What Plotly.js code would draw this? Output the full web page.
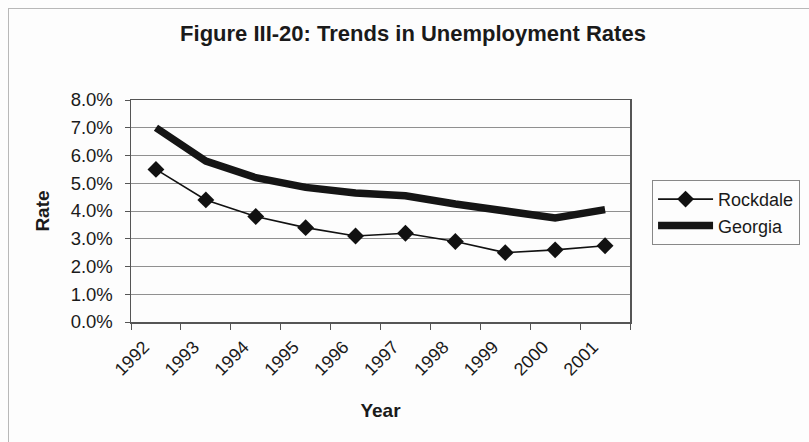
<!DOCTYPE html>
<html>
<head>
<meta charset="utf-8">
<script src="https://cdn.plot.ly/plotly-3.0.1.min.js"></script>
<style>
  html, body { margin: 0; padding: 0; background: #fdfdfd; }
  #wrap { position: relative; width: 809px; height: 442px; overflow: hidden; }
  #chart { position: absolute; left: 0; top: 0; width: 809px; height: 442px; }
  #frame { position: absolute; left: 8px; top: 8px; width: 830px; height: 460px;
           border: 1px solid #b8b8b8; pointer-events: none; }
</style>
</head>
<body>
<div id="wrap">
  <div id="chart"></div>
  <div id="frame"></div>
</div>
<script>
const years = ["1992","1993","1994","1995","1996","1997","1998","1999","2000","2001"];
const rockdale = [5.5, 4.4, 3.8, 3.4, 3.1, 3.2, 2.9, 2.5, 2.6, 2.75];
const georgia  = [7.0, 5.8, 5.2, 4.85, 4.65, 4.55, 4.25, 4.0, 3.75, 4.05];
const yTicks = [0, 1, 2, 3, 4, 5, 6, 7, 8];
const yTickText = yTicks.map(v => v.toFixed(1) + "%");

const font = "Arial, 'Liberation Sans', sans-serif";

const traces = [
  {
    x: years, y: rockdale, name: "Rockdale", type: "scatter", mode: "lines+markers",
    line: { color: "#111111", width: 1.6 },
    marker: { symbol: "diamond", size: 13, color: "#111111" }
  },
  {
    x: years, y: georgia, name: "Georgia", type: "scatter", mode: "lines",
    line: { color: "#151515", width: 7.5, shape: "linear" }
  }
];

const layout = {
  width: 809, height: 442,
  paper_bgcolor: "#fdfdfd", plot_bgcolor: "#fdfdfd",
  margin: { l: 131, r: 179, t: 100, b: 120 },
  font: { family: font, size: 18, color: "#1a1a1a" },
  title: {
    text: "<b>Figure III-20: Trends in Unemployment Rates</b>",
    font: { family: font, size: 22, color: "#1a1a1a" },
    x: 0.5105, xanchor: "center", y: 0.925, yanchor: "middle"
  },
  showlegend: true,
  legend: {
    xref: "container", yref: "container",
    x: 0.806, xanchor: "left", y: 0.593, yanchor: "top",
    bordercolor: "#888888", borderwidth: 1, bgcolor: "#fdfdfd",
    font: { family: font, size: 18, color: "#1a1a1a" },
    itemwidth: 55
  },
  xaxis: {
    type: "category", range: [-0.5, 9.5],
    tickson: "boundaries", ticks: "outside", ticklen: 6, tickcolor: "#555",
    tickangle: -45, tickfont: { family: font, size: 18 },
    ticklabelstandoff: 6, ticklabelshift: -12,
    showline: true, linecolor: "#555", linewidth: 1.5, mirror: true,
    showgrid: false, zeroline: false,
    title: { text: "<b>Year</b>", font: { family: font, size: 19 }, standoff: 25 }
  },
  yaxis: {
    range: [0, 8], tickmode: "array", tickvals: yTicks, ticktext: yTickText,
    ticks: "outside", ticklen: 5, tickcolor: "#555",
    tickfont: { family: font, size: 18.5 },
    ticklabelstandoff: 8,
    showline: true, linecolor: "#555", linewidth: 1.5, mirror: true,
    showgrid: true, gridcolor: "#909090", gridwidth: 1, zeroline: false,
    title: { text: "<b>Rate</b>", font: { family: font, size: 19 }, standoff: 16 }
  }
};

Plotly.newPlot("chart", traces, layout, { displayModeBar: false, staticPlot: true });
</script>
</body>
</html>
